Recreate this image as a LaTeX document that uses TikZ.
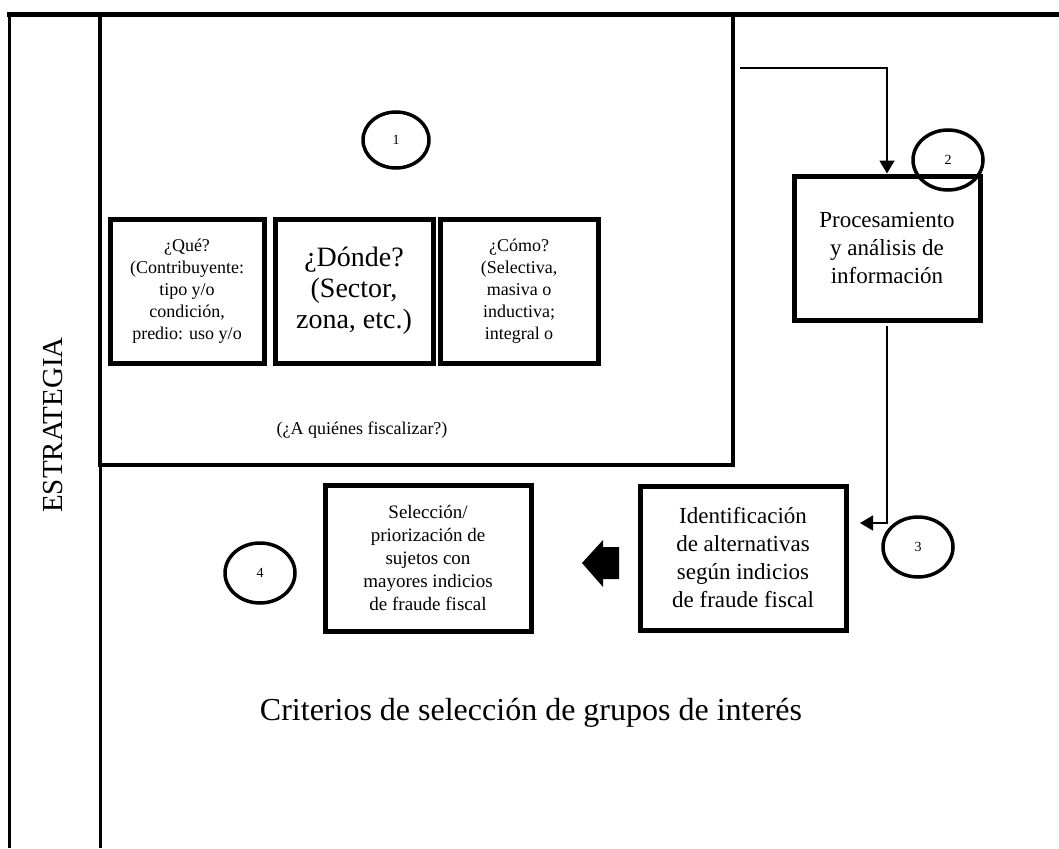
\documentclass[tikz,border=0pt]{standalone}
\usepackage{fontspec}
\setmainfont{Liberation Serif}
\usetikzlibrary{arrows.meta,shapes.geometric}
\begin{document}
\begin{tikzpicture}[x=1pt,y=-1pt,
  frame/.style={line width=3pt},
  bigbox/.style={draw, rectangle, line width=4pt, inner sep=0pt},
  qbox/.style={draw, rectangle, line width=5pt, inner sep=0pt, align=center},
  numcirc/.style={draw, ellipse, line width=3.5pt, inner sep=0pt, minimum width=70, minimum height=60, font=\fontsize{14}{16}\selectfont},
  flow/.style={line width=1.5pt, -{Triangle[length=13pt,width=15pt]}},
  smalltxt/.style={font=\fontsize{18}{22}\selectfont},
  midtxt/.style={font=\fontsize{23}{28}\selectfont},
  b4txt/.style={font=\fontsize{19}{23}\selectfont}
]
\useasboundingbox (0,0) rectangle (1059,848);
% frame lines
\coordinate (tl) at (7,15);
\coordinate (tr) at (1059,15);
\coordinate (l1t) at (9,15);
\coordinate (l1b) at (9,848);
\coordinate (l2t) at (100,15);
\coordinate (l2b) at (100,848);
\draw[line width=5pt] (tl) -- (tr);
\draw[frame] (l1t) -- (l1b);
\draw[frame] (l2t) -- (l2b);
\node[bigbox, minimum width=633, minimum height=450] (box1) at (416.5,240) {};

\node[rotate=90, font=\fontsize{29}{32}\selectfont] (estr) at (53,425) {ESTRATEGIA};

\node[numcirc, minimum width=66, minimum height=56] (c1) at (396,140) {1};

\node[qbox, smalltxt, minimum width=154, minimum height=144] (qa) at (187,291)
  {¿Qué?\\(Contribuyente:\\tipo y/o\\condición,\\predio: uso y/o};
\node[qbox, font=\fontsize{28}{31}\selectfont, minimum width=158, minimum height=144] (qb) at (354,291)
  {¿Dónde?\\(Sector,\\zona, etc.)};
\node[qbox, smalltxt, minimum width=158, minimum height=144] (qc) at (519,291)
  {¿Cómo?\\(Selectiva,\\masiva o\\inductiva;\\integral o};

\node[font=\fontsize{18}{22}\selectfont] (quien) at (362,430) {(¿A quiénes fiscalizar?)};

\node[qbox, midtxt, minimum width=186, minimum height=144] (box2) at (887,248)
  {Procesamiento\\y análisis de\\información};
\node[numcirc] (c2) at (948,160) {2};

\node[qbox, midtxt, minimum width=206, minimum height=144] (box3) at (743,558)
  {Identificación\\de alternativas\\según indicios\\de fraude fiscal};
\node[numcirc] (c3) at (918,547) {3};

\node[qbox, b4txt, minimum width=206, minimum height=146] (box4) at (428,558)
  {Selección/\\priorización de\\sujetos con\\mayores indicios\\de fraude fiscal};
\node[numcirc] (c4) at (260,573) {4};

% connectors
\coordinate (a1s) at (740,68);
\draw[flow] (a1s) -| (box2.north);
\coordinate (a2e) at (860,523);
\draw[flow, shorten <=3pt] (box2.south) |- (a2e);

% block arrow
\fill (582,563) -- (603,540) -- (603,547) -- (619,547) -- (619,579) -- (603,579) -- (603,587) -- cycle;

\node[font=\fontsize{32}{36}\selectfont] (crit) at (531,713) {Criterios de selección de grupos de interés};
\end{tikzpicture}
\end{document}
